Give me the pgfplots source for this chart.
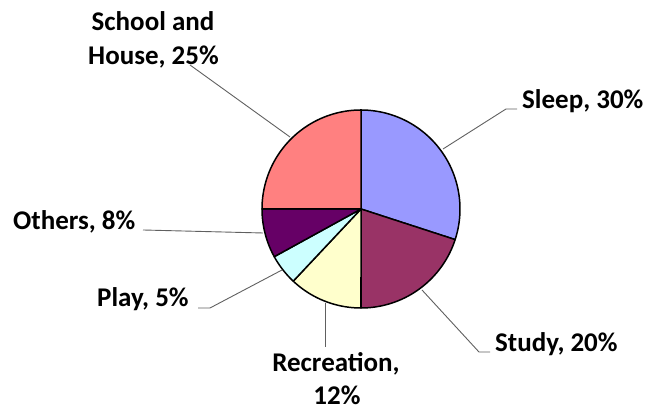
\documentclass[border=0pt]{standalone}
\usepackage{pgfplots}
\pgfplotsset{compat=1.18}
\usepackage{fontspec}
\setmainfont{Carlito}
\definecolor{sleepc}{HTML}{9999FF}
\definecolor{studyc}{HTML}{993366}
\definecolor{recc}{HTML}{FFFFCC}
\definecolor{playc}{HTML}{CCFFFF}
\definecolor{othc}{HTML}{660066}
\definecolor{schc}{HTML}{FF8080}
\definecolor{leadc}{HTML}{606060}
\tikzset{lbl/.style={font=\fontsize{27}{34}\selectfont\bfseries, text=black, inner sep=0pt}}
\def\cx{361}\def\cy{-209}\def\R{99}
\def\cum{0}
\newcommand\slice[2]{%
  \pgfmathsetmacro\sa{90-3.6*\cum}%
  \pgfmathsetmacro\cumnew{\cum+#1}%
  \pgfmathsetmacro\sb{90-3.6*\cumnew}%
  \global\let\cum\cumnew
  \edef\doslice{\noexpand\addplot[fill=#2, draw=black, line width=1.5pt, line join=round, domain=\sb:\sa, samples=90] ({\cx+\R*cos(x)},{\cy+\R*sin(x)}) -- (axis cs:\cx,\cy) -- cycle;}%
  \doslice}
\begin{document}
\begin{tikzpicture}
\path[use as bounding box] (0,0) rectangle (649pt,411pt);
\begin{axis}[
  at={(0,0)}, anchor=south west,
  scale only axis, width=649pt, height=411pt,
  xmin=0, xmax=649, ymin=-411, ymax=0,
  hide axis, clip=false,
]
% data: percentages, clockwise from 12 o'clock
\slice{30}{sleepc}
\slice{20}{studyc}
\slice{12}{recc}
\slice{5}{playc}
\slice{8}{othc}
\slice{25}{schc}
% leader lines
\addplot[leadc, line width=0.9pt, mark=none] coordinates {(517,-109) (506,-109) (443,-149)};
\addplot[leadc, line width=0.9pt, mark=none] coordinates {(490,-352) (479,-352) (422,-290)};
\addplot[leadc, line width=0.9pt, mark=none] coordinates {(325,-347) (325,-303)};
\addplot[leadc, line width=0.9pt, mark=none] coordinates {(198,-308) (210,-308) (282,-270)};
\addplot[leadc, line width=0.9pt, mark=none] coordinates {(143,-230) (263,-233)};
\addplot[leadc, line width=0.9pt, mark=none] coordinates {(190,-65) (290,-137)};
% labels
\node[lbl, anchor=base west] at (axis cs:522,-109) {Sleep, 30\%};
\node[lbl, anchor=base west] at (axis cs:495,-352) {Study, 20\%};
\node[lbl, anchor=base] at (axis cs:336,-372) {Recreation,};
\node[lbl, anchor=base] at (axis cs:337,-405) {12\%};
\node[lbl, anchor=base west] at (axis cs:97,-307) {Play, 5\%};
\node[lbl, anchor=base west] at (axis cs:13,-230) {Others, 8\%};
\node[lbl, anchor=base] at (axis cs:153,-31) {School and};
\node[lbl, anchor=base] at (axis cs:153.5,-65) {House, 25\%};
\end{axis}
\end{tikzpicture}
\end{document}
